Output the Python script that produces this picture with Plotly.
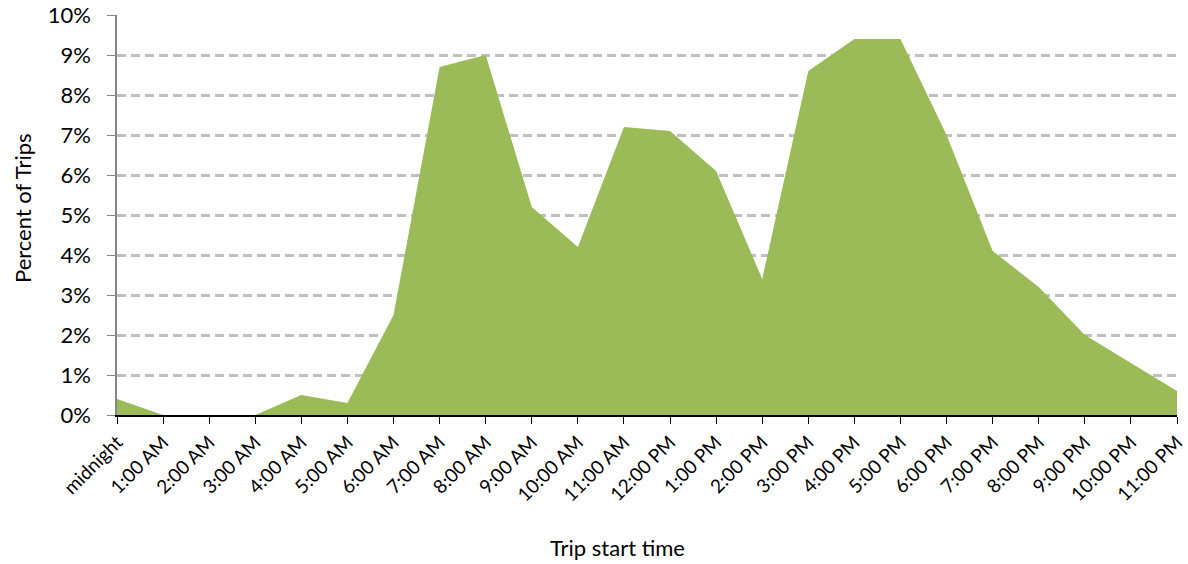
import plotly.graph_objects as go

# Share of trips by start hour
hours = ["midnight", "1:00 AM", "2:00 AM", "3:00 AM", "4:00 AM", "5:00 AM",
         "6:00 AM", "7:00 AM", "8:00 AM", "9:00 AM", "10:00 AM", "11:00 AM",
         "12:00 PM", "1:00 PM", "2:00 PM", "3:00 PM", "4:00 PM", "5:00 PM",
         "6:00 PM", "7:00 PM", "8:00 PM", "9:00 PM", "10:00 PM", "11:00 PM"]
pct_trips = [0.4, 0.0, 0.0, 0.0, 0.5, 0.3,
             2.5, 8.7, 9.0, 5.2, 4.2, 7.2,
             7.1, 6.1, 3.4, 8.6, 9.4, 9.4,
             7.0, 4.1, 3.2, 2.0, 1.3, 0.6]
y_ticks = [0, 1, 2, 3, 4, 5, 6, 7, 8, 9, 10]
y_tick_text = [f"{v}%" for v in y_ticks]

FONT = "Lato, 'Open Sans', sans-serif"
W, H = 1188, 564
ML, MR, MT, MB = 117, 11, 15, 149

fig = go.Figure()
fig.add_trace(go.Scatter(
    x=hours,
    y=pct_trips,
    mode="lines",
    fill="tozeroy",
    fillcolor="#9BBB59",
    line=dict(width=0, color="#9BBB59"),
    hoverinfo="x+y",
))

fig.update_layout(
    width=W,
    height=H,
    margin=dict(l=ML, r=MR, t=MT, b=MB, autoexpand=False),
    paper_bgcolor="white",
    plot_bgcolor="white",
    showlegend=False,
    font=dict(family=FONT, size=20, color="#000000"),
    xaxis=dict(
        type="category",
        range=[0, 23],
        automargin=False,
        tickangle=-45,
        ticks="outside",
        ticklen=7,
        tickwidth=1,
        tickcolor="#000000",
        showline=True,
        linecolor="#000000",
        linewidth=1.5,
        showgrid=False,
        zeroline=False,
        tickfont=dict(family=FONT, size=19),
    ),
    yaxis=dict(
        range=[0, 10],
        automargin=False,
        tickvals=y_ticks,
        ticktext=y_tick_text,
        ticks="outside",
        ticklen=8,
        tickwidth=1,
        tickcolor="#868686",
        showline=True,
        linecolor="#868686",
        linewidth=1.5,
        showgrid=True,
        gridcolor="#C0C0C0",
        gridwidth=2.6,
        griddash="9px,5px",
        zeroline=False,
        ticklabelstandoff=12,
        tickfont=dict(family=FONT, size=22),
    ),
)

# axis titles placed by canvas pixel position
plot_w = W - ML - MR
plot_h = H - MT - MB
titles = [
    ("Trip start time", 617, 547, 0),
    ("Percent of Trips", 22, 208, -90),
]
for text, px, py, angle in titles:
    fig.add_annotation(
        text=text,
        x=(px - ML) / plot_w,
        y=(H - MB - py) / plot_h,
        xref="paper", yref="paper",
        xanchor="center", yanchor="middle",
        showarrow=False, textangle=angle,
        font=dict(family=FONT, size=22),
    )

fig.write_html("out.html")
